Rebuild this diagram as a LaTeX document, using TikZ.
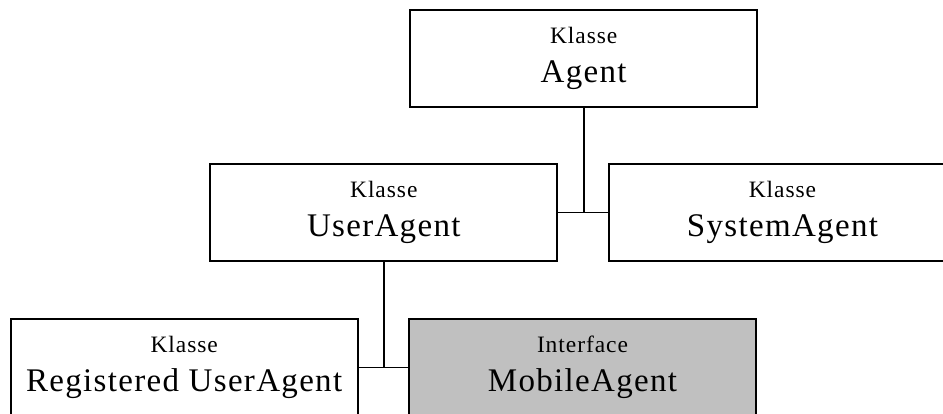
\documentclass[tikz,border=0pt]{standalone}
\usepackage{fontspec}
\setmainfont{Liberation Serif}[LetterSpace=4.0]
\definecolor{ifacegray}{RGB}{192,192,192}
\begin{document}
\begin{tikzpicture}[
  x=1pt, y=1pt,
  umlbox/.style={draw=black, line width=2pt, rectangle, minimum width=347pt,
    minimum height=96.5pt, inner sep=0pt, outer sep=0pt},
  kindtext/.style={font=\fontsize{23.5}{26}\selectfont, inner sep=0pt, anchor=base},
  nametext/.style={font=\fontsize{33}{36}\selectfont, inner sep=0pt, anchor=base},
  link/.style={draw=black, line width=1.7pt}
]
\clip (0,0) rectangle (943,-414);
\fill[white] (0,0) rectangle (943,-414);

\node[umlbox] (agent) at (583.7,-58.7) {};
\node[umlbox] (user) at (383.8,-212.5) {};
\node[umlbox] (system) at (782.5,-212.5) {};
\node[umlbox] (registered) at (184.2,-367.6) {};
\node[umlbox, fill=ifacegray] (mobile) at (582.5,-367.6) {};

\node[kindtext] (agentk) at ([yshift=15.25]agent.center) {Klasse};
\node[nametext] (agentn) at ([yshift=-24.25]agent.center) {Agent};
\node[kindtext] (userk) at ([yshift=15.25]user.center) {Klasse};
\node[nametext] (usern) at ([yshift=-24.25]user.center) {UserAgent};
\node[kindtext] (systemk) at ([yshift=15.25]system.center) {Klasse};
\node[nametext] (systemn) at ([yshift=-24.25]system.center) {SystemAgent};
\node[kindtext] (registeredk) at ([yshift=15.25]registered.center) {Klasse};
\node[nametext] (registeredn) at ([yshift=-24.25]registered.center) {Registered UserAgent};
\node[kindtext] (mobilek) at ([yshift=15.25]mobile.center) {Interface};
\node[nametext] (mobilen) at ([yshift=-24.25]mobile.center) {MobileAgent};

\draw[link] (agent.south) -- (agent.south |- user.east);
\draw[link] (user.east) -- (system.west);
\draw[link] (user.south) -- (user.south |- registered.east);
\draw[link] (registered.east) -- (mobile.west);
\end{tikzpicture}
\end{document}
